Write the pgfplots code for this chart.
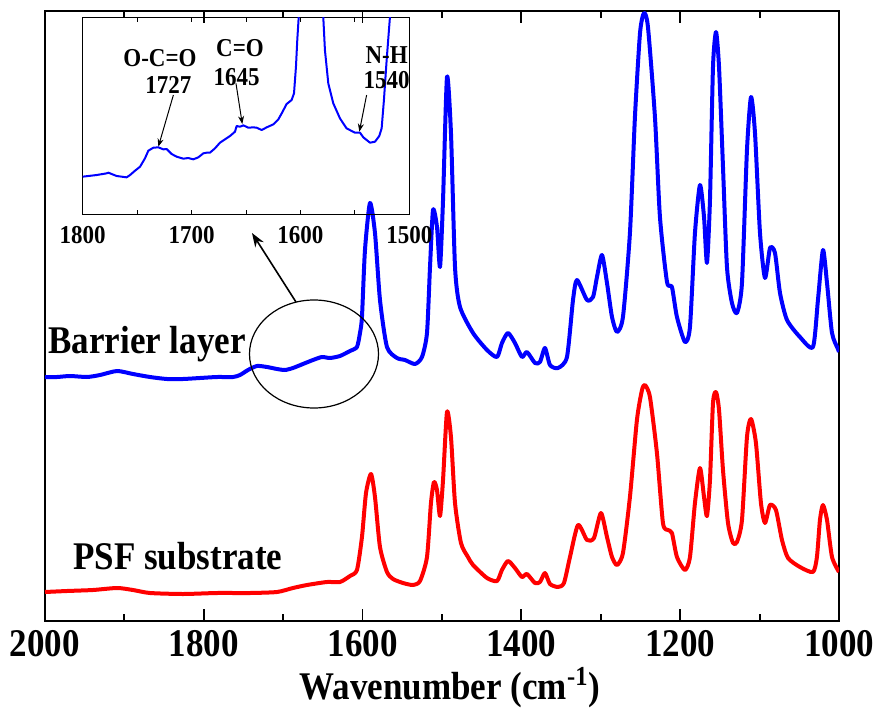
\documentclass[border=0pt]{standalone}
\usepackage{fontspec}
\setmainfont{Liberation Serif}
\usepackage{pgfplots}
\pgfplotsset{compat=1.18}
\usetikzlibrary{arrows.meta}
\newcommand{\vs}[1]{\scalebox{1}[1.12]{#1}}
\newcommand{\bigf}{\fontsize{17.5}{18}\selectfont\bfseries}
\newcommand{\smf}{\fontsize{11.5}{12}\selectfont\bfseries}
\begin{document}
\begin{tikzpicture}
\begin{axis}[
  at={(22.5pt,46pt)}, anchor=south west, scale only axis,
  width=397pt, height=305pt,
  xmin=1000, xmax=2000, ymin=0, ymax=610, x dir=reverse,
  axis line style={line width=1pt},
  xtick={1000,1200,1400,1600,1800,2000},
  xticklabels={\vs{1000},\vs{1200},\vs{1400},\vs{1600},\vs{1800},\vs{2000}},
  minor xtick={1100,1300,1500,1700,1900},
  ytick=\empty,
  minor ytick={6.5,44.2,81.9,119.6,157.3,195,232.7,270.4,308.1,345.8,383.5,421.2,458.9,496.6,534.3,572},
  tick align=inside, major tick length=6pt, minor tick length=3.5pt,
  tick style={black, line width=0.9pt},
  xticklabel style={font=\bigf, yshift=-1pt},
  xlabel={\vs{Wavenumber (cm\textsuperscript{-1})}},
  xlabel style={font=\bigf, at={(axis description cs:0.5,0)}, anchor=center, yshift=-33.5pt, xshift=4pt},
  clip mode=individual,
]
\addplot[blue, line width=2pt, smooth, tension=0.4, line join=round] coordinates {
(2000,244) (1984.9,244) (1968.5,245) (1947.1,244) (1930.7,246) (1909.3,250) (1889.2,247)
(1867.8,244) (1846.4,242) (1826.2,242) (1804.8,243) (1783.4,244) (1763.2,244) (1754.4,246)
(1744.3,251) (1733.0,255) (1720.4,254) (1707.8,252) (1697.7,251) (1687.7,253) (1675.1,257)
(1662.5,261) (1651.1,264) (1641.1,263) (1628.5,265) (1615.9,270) (1607.1,274) (1603.3,288)
(1600.8,304) (1597.0,371) (1590.7,418) (1584.4,388) (1578.1,321) (1569.3,274) (1556.7,263)
(1546.6,261) (1534.0,257) (1525.2,264) (1518.9,288) (1515.1,354) (1511.3,411) (1506.3,394)
(1502.5,354) (1498.7,421) (1493.7,544) (1488.7,488) (1483.6,354) (1477.3,314) (1460.9,288)
(1443.3,271) (1430.7,264) (1424.5,278) (1416.9,288) (1408.1,278) (1399.3,264) (1393.0,269)
(1382.9,258) (1376.6,259) (1370.3,273) (1364.0,256) (1353.9,253) (1342.6,264) (1335.0,321)
(1330.0,341) (1317.4,321) (1309.8,324) (1304.8,344) (1298.5,366) (1292.2,338) (1285.9,304)
(1279.6,289) (1272.1,304) (1263.3,388) (1257.0,504) (1250.6,588) (1245.6,608) (1240.6,594)
(1231.8,504) (1225.5,404) (1216.6,339) (1210.4,334) (1204.1,304) (1194.0,279) (1187.7,294)
(1181.4,388) (1175.1,436) (1170.0,404) (1166.3,358) (1162.5,421) (1158.7,554) (1154.9,589)
(1151.1,554) (1146.1,454) (1141.1,354) (1134.8,318) (1128.5,308) (1122.2,338) (1115.9,471)
(1110.8,524) (1105.8,488) (1099.5,388) (1093.2,343) (1086.9,373) (1080.6,368) (1074.3,328)
(1065.5,301) (1049.2,284) (1032.8,274) (1026.5,321) (1020.2,371) (1015.1,338) (1008.8,288)
(1001.3,272) (1000,269)
};
\addplot[red, line width=2pt, smooth, tension=0.4, line join=round] coordinates {
(2000,29) (1972.3,30) (1939.6,31) (1909.3,33) (1889.2,31) (1867.8,28) (1826.2,27) (1783.4,28)
(1741.8,28) (1707.8,29) (1687.7,33) (1670.0,36) (1644.9,39) (1628.5,39) (1615.9,45) (1607.1,51)
(1600.8,84) (1595.7,128) (1589.4,147) (1584.4,124) (1578.1,74) (1569.3,49) (1561.7,42)
(1549.1,38) (1536.5,36) (1527.7,40) (1518.9,64) (1513.9,118) (1510.1,139) (1506.3,131)
(1502.5,105) (1498.7,141) (1493.7,209) (1488.7,184) (1483.6,118) (1476.1,78) (1467.3,64)
(1460.9,56) (1443.3,43) (1430.7,40) (1424.5,51) (1416.9,60) (1408.1,53) (1399.3,44) (1393.0,47)
(1382.9,38) (1376.6,39) (1370.3,48) (1364.0,37) (1353.9,34) (1346.4,38) (1338.8,64) (1328.7,96)
(1317.4,81) (1308.6,83) (1299.8,108) (1292.2,84) (1285.9,64) (1279.6,56) (1272.1,68) (1263.3,124)
(1254.5,201) (1248.1,231) (1244.4,236) (1238.1,224) (1229.3,168) (1221.7,98) (1215.4,91)
(1210.4,88) (1204.1,64) (1194.0,51) (1187.7,64) (1181.4,118) (1175.1,153) (1170.0,124)
(1166.3,105) (1162.5,141) (1158.7,218) (1154.9,229) (1151.1,211) (1146.1,151) (1139.8,98)
(1133.5,78) (1128.5,79) (1122.2,101) (1115.9,184) (1110.8,202) (1104.6,178) (1098.3,118)
(1093.2,98) (1086.9,116) (1079.4,111) (1071.8,81) (1064.2,63) (1049.2,54) (1032.8,49)
(1027.8,64) (1024.0,101) (1020.2,116) (1015.1,101) (1008.8,64) (1000,49)
};
\node[font=\bigf, anchor=base west, inner sep=0pt] at (axis cs:1996.2,268) {\vs{Barrier layer}};
\node[font=\bigf, anchor=base west, inner sep=0pt] at (axis cs:1964.7,52) {\vs{PSF substrate}};
\draw[line width=0.6pt] (axis cs:1661.2,267) ellipse [x radius=32.25pt, y radius=27pt];
\draw[line width=0.8pt, -{Stealth[length=7pt,width=5pt]}] (axis cs:1683.9,319) -- (axis cs:1739.3,388);
\end{axis}
\begin{axis}[
  at={(41.35pt,249pt)}, anchor=south west, scale only axis,
  width=163.3pt, height=98.8pt,
  xmin=1500, xmax=1800, ymin=0, ymax=593, x dir=reverse,
  axis line style={line width=0.5pt},
  xtick={1500,1600,1700,1800},
  xticklabels={\vs{1500},\vs{1600},\vs{1700},\vs{1800}},
  minor xtick={1550,1650,1750},
  ytick=\empty,
  minor ytick={35,85,135,185,237,290,340,390,442,495,545},
  tick align=inside, major tick length=2.5pt, minor tick length=2.5pt,
  tick style={black, line width=0.4pt},
  xticklabel style={font=\smf, yshift=-2pt},
  clip mode=individual,
]
\addplot[blue, line width=1pt, line join=round] coordinates {
(1800,115) (1787.1,120) (1778.0,125) (1776.4,127) (1768.8,117) (1759.6,113) (1756.5,120)
(1751.9,133) (1747.3,145) (1742.8,170) (1739.7,193) (1735.1,202) (1730.5,203) (1725.9,197)
(1722.9,198) (1718.3,183) (1713.7,175) (1707.6,169) (1703.0,171) (1698.4,167) (1693.8,173)
(1689.2,185) (1686.1,187) (1683.1,187) (1678.5,200) (1673.9,217) (1669.3,227) (1664.7,237)
(1660.1,250) (1658.6,267) (1655.5,265) (1652.4,269) (1647.9,262) (1643.3,263) (1640.2,262)
(1635.6,255) (1631.0,263) (1624.9,272) (1620.3,287) (1617.2,305) (1612.7,333) (1608.1,345)
(1605.9,365) (1604.1,445) (1602.9,525) (1601.6,593) (1597.4,800) (1582.0,800) (1579.0,593)
(1577.5,495) (1574.4,395) (1569.8,335) (1563.7,290) (1557.6,260) (1549.9,247) (1545.3,247)
(1542.2,233) (1536.1,217) (1531.5,220) (1527.6,237) (1525.4,260) (1523.3,345) (1520.8,465)
(1517.8,593) (1514.7,800)
};
\node[font=\smf] at (axis cs:1729,471) {\vs{O-C=O}};
\node[font=\smf] at (axis cs:1721.3,390) {\vs{1727}};
\draw[line width=0.5pt, -{Stealth[length=4pt,width=3pt]}] (axis cs:1716.7,360) -- (axis cs:1730.5,205);
\node[font=\smf] at (axis cs:1655.5,500) {\vs{C=O}};
\node[font=\smf] at (axis cs:1658.6,415) {\vs{1645}};
\draw[line width=0.5pt, -{Stealth[length=4pt,width=3pt]}] (axis cs:1659.2,395) -- (axis cs:1653.4,273);
\node[font=\smf] at (axis cs:1520.8,480) {\vs{N-H}};
\node[font=\smf] at (axis cs:1520.8,405) {\vs{1540}};
\draw[line width=0.5pt, -{Stealth[length=4pt,width=3pt]}] (axis cs:1539.2,360) -- (axis cs:1545.9,250);
\end{axis}
\pgfresetboundingbox
\path[use as bounding box] (0,0) rectangle (438.5pt,356.5pt);
\end{tikzpicture}
\end{document}
